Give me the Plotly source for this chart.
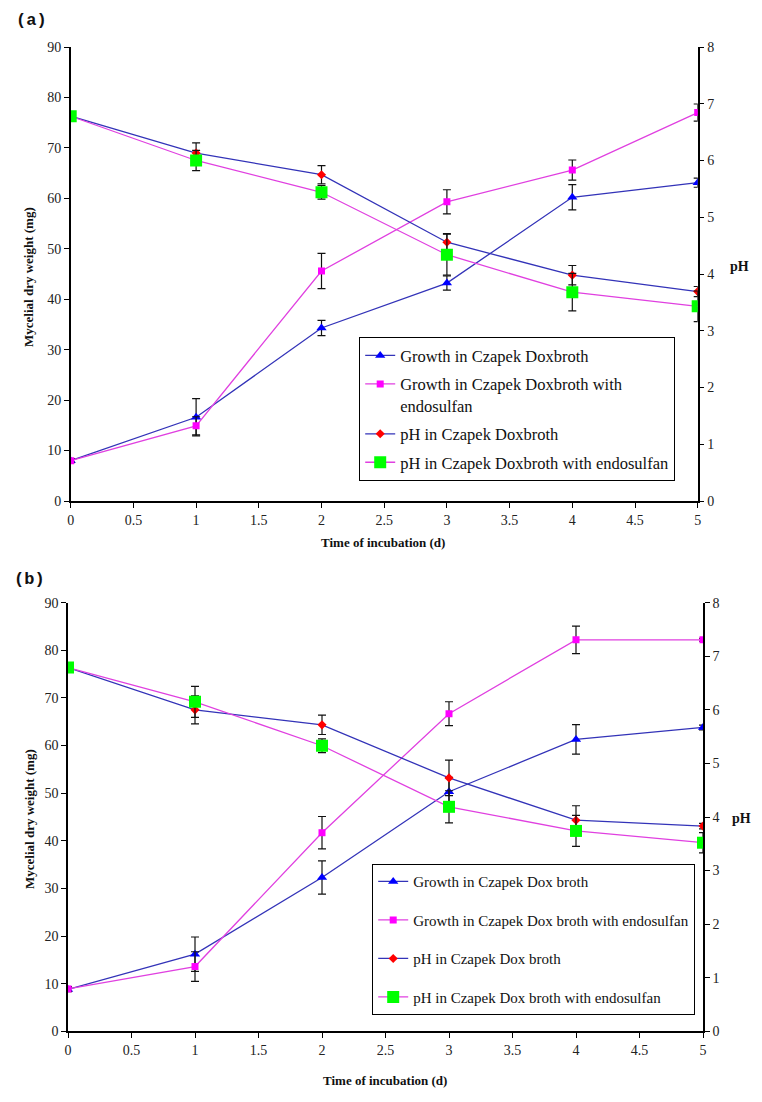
import plotly.graph_objects as go

days = [0, 1, 2, 3, 4, 5]
x_ticks = [0, 0.5, 1, 1.5, 2, 2.5, 3, 3.5, 4, 4.5, 5]

# Panel (a)
growth_cd_a = [8.0, 16.6, 34.3, 43.2, 60.2, 63.1]
growth_cd_a_err = [0.4, 3.7, 1.5, 1.4, 2.5, 0.9]
growth_endo_a = [8.0, 14.9, 45.6, 59.3, 65.6, 77.0]
growth_endo_a_err = [0.3, 1.8, 3.5, 2.4, 2.0, 1.7]
ph_cd_a = [6.78, 6.13, 5.75, 4.56, 3.98, 3.69]
ph_cd_a_err = [0.03, 0.18, 0.16, 0.15, 0.17, 0.09]
ph_endo_a = [6.78, 6.00, 5.44, 4.34, 3.68, 3.43]
ph_endo_a_err = [0.03, 0.18, 0.12, 0.36, 0.33, 0.27]

# Panel (b)
growth_cd_b = [8.8, 16.2, 32.3, 50.3, 61.3, 63.8]
growth_cd_b_err = [0.5, 3.6, 3.5, 3.0, 3.1, 0.5]
growth_endo_b = [8.9, 13.6, 41.7, 66.7, 82.2, 82.2]
growth_endo_b_err = [0.5, 3.1, 3.4, 2.5, 2.9, 0.3]
ph_cd_b = [6.79, 6.00, 5.72, 4.73, 3.94, 3.83]
ph_cd_b_err = [0.03, 0.26, 0.18, 0.33, 0.27, 0.05]
ph_endo_b = [6.79, 6.15, 5.33, 4.19, 3.74, 3.52]
ph_endo_b_err = [0.03, 0.29, 0.13, 0.30, 0.29, 0.19]

names_a = ["Growth in Czapek Doxbroth",
           "Growth in Czapek Doxbroth with<br>endosulfan",
           "pH in Czapek Doxbroth",
           "pH in Czapek Doxbroth with endosulfan"]
names_b = ["Growth in Czapek Dox broth",
           "Growth in Czapek Dox broth with endosulfan",
           "pH in Czapek Dox broth",
           "pH in Czapek Dox broth with endosulfan"]

BLUE_LINE = "#3333B8"
MAG_LINE = "#E040E0"
SERIF = "Liberation Serif, Times New Roman, serif"
MONO = "Liberation Mono, Courier New, monospace"

styles = [
    dict(line=BLUE_LINE, marker="#0000FF", symbol="triangle-up", size=9),
    dict(line=MAG_LINE, marker="#FF00FF", symbol="square", size=7),
    dict(line=BLUE_LINE, marker="#FF0000", symbol="diamond", size=7),
    dict(line=MAG_LINE, marker="#00FF00", symbol="square", size=12),
]

fig = go.Figure()


def add_panel(xa, ya_left, ya_right, legend, names, series):
    for i, (vals, errs) in enumerate(series):
        st = styles[i]
        yaxis = ya_left if i < 2 else ya_right
        fig.add_trace(go.Scatter(
            x=days, y=vals, name=names[i], mode="lines+markers",
            xaxis=xa, yaxis=yaxis, legend=legend, legendgroup=legend + str(i),
            line=dict(color=st["line"], width=1.3),
            marker=dict(color=st["marker"], symbol=st["symbol"], size=st["size"],
                        line=dict(width=0)),
            error_y=dict(type="data", array=errs, visible=True, color="#111111",
                         thickness=1.2, width=4),
        ))


add_panel("x", "y", "y2", "legend", names_a,
          [(growth_cd_a, growth_cd_a_err), (growth_endo_a, growth_endo_a_err),
           (ph_cd_a, ph_cd_a_err), (ph_endo_a, ph_endo_a_err)])
add_panel("x2", "y3", "y4", "legend2", names_b,
          [(growth_cd_b, growth_cd_b_err), (growth_endo_b, growth_endo_b_err),
           (ph_cd_b, ph_cd_b_err), (ph_endo_b, ph_endo_b_err)])

# page has an 8px body margin; figure sized to fit the window
OFF = 8
FW, FH = 762 - OFF, 1102 - OFF


def px(v):
    return (v - OFF) / FW


def py(v):
    return 1 - (v - OFF) / FH


dom_a_x = [px(70.7), px(697.7)]
dom_a_y = [py(501), py(47)]
dom_b_x = [px(68), px(703)]
dom_b_y = [py(1031.3), py(602.7)]


def tf():
    return dict(family=SERIF, size=14, color="#222222")


def base():
    return dict(automargin=False, showgrid=False, zeroline=False,
                tickcolor="black", linecolor="black", linewidth=1.5)


def xcommon():
    return dict(range=[0, 5], tickvals=x_ticks, ticks="outside", ticklen=5,
                showline=True, tickfont=tf(), **base())


def ylcommon():
    return dict(range=[0, 90], dtick=10, ticks="outside", ticklen=5,
                showline=True, tickfont=tf(), **base())


def yrcommon():
    return dict(range=[0, 8], dtick=1, ticks="outside", ticklen=5,
                showline=True, tickfont=tf(), side="right", **base())


def yrinner():
    return dict(range=[0, 8], dtick=1, ticks="inside", ticklen=5,
                showline=False, showticklabels=False, side="right", **base())


def legend_common():
    return dict(bgcolor="white", bordercolor="black", borderwidth=1.2,
                xanchor="left", yanchor="top", traceorder="grouped",
                itemwidth=30, valign="top", itemclick=False)


fig.update_layout(
    width=FW, height=FH,
    margin=dict(l=0, r=0, t=0, b=0, autoexpand=False),
    font=dict(family=SERIF, size=14, color="#111111"),
    paper_bgcolor="white", plot_bgcolor="white",
    xaxis=dict(domain=dom_a_x, anchor="y", **xcommon()),
    yaxis=dict(domain=dom_a_y, anchor="x", **ylcommon()),
    yaxis2=dict(anchor="x", overlaying="y", **yrcommon()),
    yaxis5=dict(anchor="x", overlaying="y", **yrinner()),
    xaxis2=dict(domain=dom_b_x, anchor="y3", **xcommon()),
    yaxis3=dict(domain=dom_b_y, anchor="x2", **ylcommon()),
    yaxis4=dict(anchor="x2", overlaying="y3", **yrcommon()),
    yaxis6=dict(anchor="x2", overlaying="y3", **yrinner()),
    legend=dict(x=px(359), y=py(337), font=dict(family=SERIF, size=16.5, color="#111111"),
                tracegroupgap=4, **legend_common()),
    legend2=dict(x=px(372), y=py(864), font=dict(family=SERIF, size=15, color="#111111"),
                 tracegroupgap=16, **legend_common()),
    showlegend=True,
)

annots = [
    dict(text="<b>(a)</b>", x=px(14), y=py(20), xanchor="left", yanchor="middle",
         font=dict(family=MONO, size=17, color="#111111")),
    dict(text="<b>(b)</b>", x=px(12), y=py(579), xanchor="left", yanchor="middle",
         font=dict(family=MONO, size=17, color="#111111")),
    dict(text="<b>Mycelial dry weight (mg)</b>", x=px(29), y=py(277), textangle=-90,
         xanchor="center", yanchor="middle", font=dict(family=SERIF, size=13, color="#111111")),
    dict(text="<b>Mycelial dry weight (mg)</b>", x=px(29), y=py(819), textangle=-90,
         xanchor="center", yanchor="middle", font=dict(family=SERIF, size=13, color="#111111")),
    dict(text="<b>Time of incubation (d)</b>", x=px(383), y=py(542),
         xanchor="center", yanchor="middle", font=dict(family=SERIF, size=13, color="#111111")),
    dict(text="<b>Time of incubation (d)</b>", x=px(385), y=py(1080),
         xanchor="center", yanchor="middle", font=dict(family=SERIF, size=13, color="#111111")),
    dict(text="<b>pH</b>", x=px(739), y=py(266),
         xanchor="center", yanchor="middle", font=dict(family=SERIF, size=14, color="#111111")),
    dict(text="<b>pH</b>", x=px(741), y=py(818),
         xanchor="center", yanchor="middle", font=dict(family=SERIF, size=14, color="#111111")),
]
for a in annots:
    fig.add_annotation(xref="paper", yref="paper", showarrow=False, **a)

fig.write_html("out.html")
